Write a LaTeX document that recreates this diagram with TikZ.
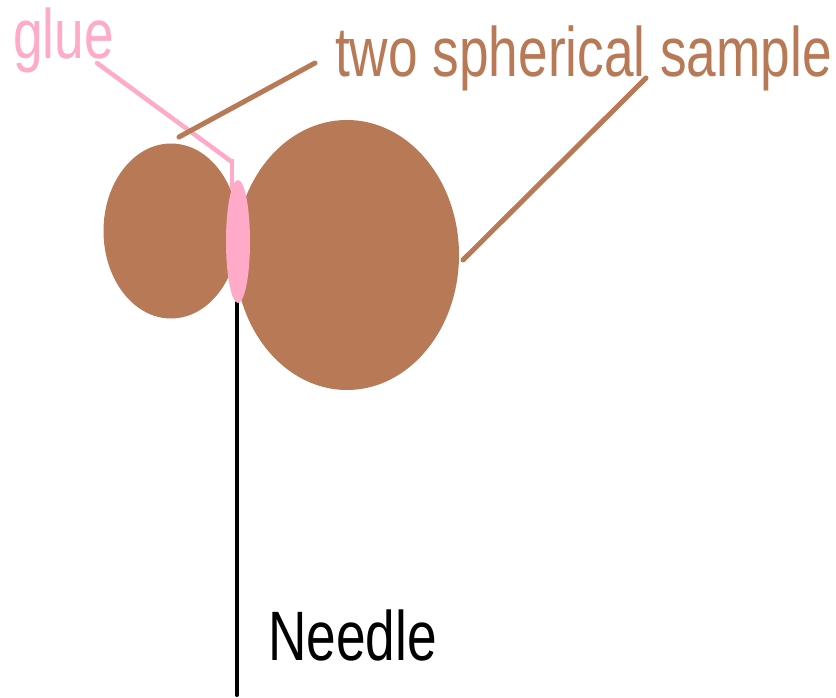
\documentclass[tikz,border=0pt]{standalone}
\usepackage{fontspec}
\setmainfont{Liberation Sans}
\usepackage{xcolor}
\usetikzlibrary{shapes.geometric, positioning}
\definecolor{samplebrown}{RGB}{184,121,86}
\definecolor{gluepink}{RGB}{255,170,200}
\begin{document}
\begin{tikzpicture}[x=1pt,y=-1pt,
    sample/.style={ellipse, fill=samplebrown, inner sep=0pt},
    gluedrop/.style={ellipse, fill=gluepink, inner sep=0pt},
    brownline/.style={draw=samplebrown, line width=5pt, line cap=round},
    pinkline/.style={draw=gluepink, line width=4.5pt, line cap=round},
    needleline/.style={draw=black, line width=4pt, line cap=round},
    biglabel/.style={font=\fontsize{70}{70}\selectfont, xscale=0.76, inner sep=0pt, anchor=base west},
]
\useasboundingbox (0,0) rectangle (836,698);

% Samples
\node[sample, minimum width=135pt, minimum height=175pt] (small) at (171,231) {};
\node[sample, minimum width=224pt, minimum height=270pt] (large) at (347,255) {};

% Needle
\coordinate (needletop) at (236.5,290);
\coordinate (needleend) at (236.5,695);
\draw[needleline] (needletop) -- (needleend);

% Glue
\coordinate (gluebend) at (232,162);
\coordinate (gluestart) at (97,63);
\draw[pinkline] (gluestart) -- (gluebend);
\draw[pinkline, line cap=butt] (232,159) -- (232,190);
\node[gluedrop, minimum width=24pt, minimum height=123pt] (drop) at (238,241.5) {};

% Labels
\node[biglabel, text=samplebrown] (twolabel) at (335,77) {two spherical sample};
\node[biglabel, text=gluepink] (gluelabel) at (13,59) {glue};
\node[biglabel] (needlelabel) at (268,660) {Needle};

% Leaders
\coordinate (leadera) at (315,63);
\coordinate (leaderb) at (179,137);
\coordinate (leaderc) at (646,78);
\coordinate (leaderd) at (463,260);
\draw[brownline] (leadera) -- (leaderb);
\draw[brownline] (leaderc) -- (leaderd);
\end{tikzpicture}
\end{document}
